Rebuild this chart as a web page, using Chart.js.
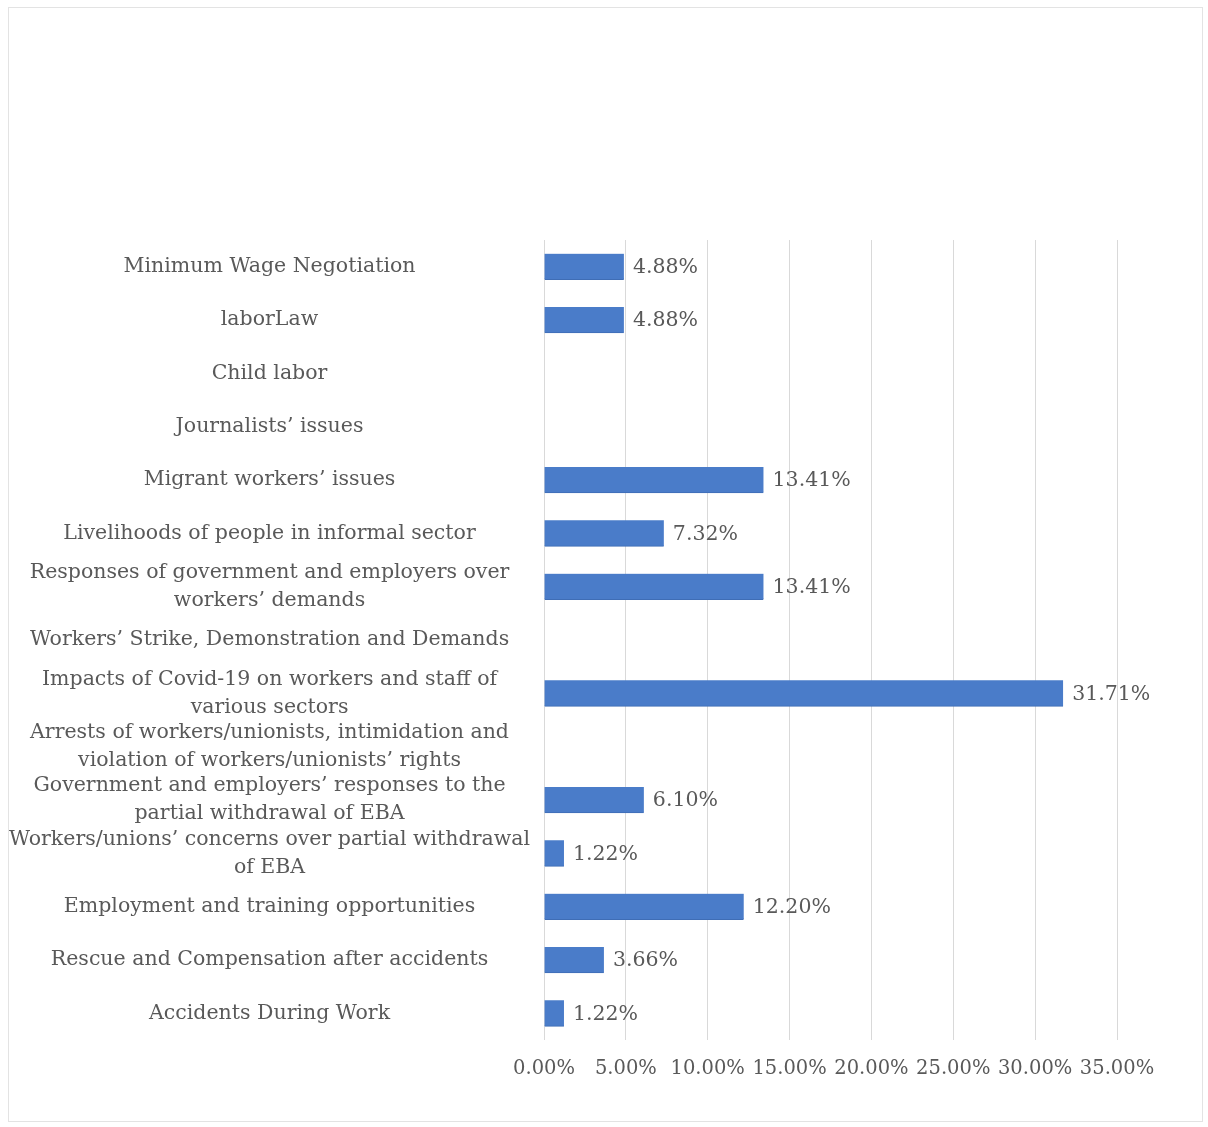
<!DOCTYPE html>
<html>
<head>
<meta charset="utf-8">
<script src="https://cdn.jsdelivr.net/npm/chart.js@4"></script>
<style>
  html, body { margin: 0; padding: 0; background: #fff; }
  #wrap { position: relative; width: 1208px; height: 1127px; }
  #frame { position: absolute; left: 8px; top: 7px; width: 1195px; height: 1115px; border: 1px solid #e3e3e3; box-sizing: border-box; }
  canvas { position: absolute; left: 0; top: 0; }
</style>
</head>
<body>
<div id="wrap">
  <div id="frame"></div>
  <canvas id="topicChart" width="1208" height="1127"></canvas>
</div>
<script>
// Categories (top to bottom)
const categories = [
    ["Minimum Wage Negotiation"],
    ["laborLaw"],
    ["Child labor"],
    ["Journalists\u2019 issues"],
    ["Migrant workers\u2019 issues"],
    ["Livelihoods of people in informal sector"],
    ["Responses of government and employers over", "workers\u2019 demands"],
    ["Workers\u2019 Strike, Demonstration and Demands"],
    ["Impacts of Covid-19 on workers and staff of", "various sectors"],
    ["Arrests of workers/unionists, intimidation and", "violation of workers/unionists\u2019 rights"],
    ["Government and employers\u2019 responses to the", "partial withdrawal of EBA"],
    ["Workers/unions\u2019 concerns over partial withdrawal", "of EBA"],
    ["Employment and training opportunities"],
    ["Rescue and Compensation after accidents"],
    ["Accidents During Work"]
];

// Share of news (%)
const shares = [4.88, 4.88, 0, 0, 13.41, 7.32, 13.41, 0, 31.71, 0, 6.10, 1.22, 12.20, 3.66, 1.22];

// x-axis ticks
const tickMin = 0;
const tickMax = 35;
const tickStep = 5;

const serif = "'DejaVu Serif', serif";
const textColor = "#595959";

// value labels after each bar
const valueLabels = {
    id: "valueLabels",
    afterDatasetsDraw(chart) {
        const ctx = chart.ctx;
        const meta = chart.getDatasetMeta(0);
        ctx.save();
        ctx.font = "20.5px " + serif;
        ctx.fillStyle = textColor;
        ctx.textAlign = "left";
        ctx.textBaseline = "middle";
        meta.data.forEach((bar, i) => {
            const v = shares[i];
            if (!v) return; // empty categories have no label
            ctx.fillText(v.toFixed(2) + "%", bar.x + 9, bar.y + 1);
        });
        ctx.restore();
    }
};

const ctx = document.getElementById("topicChart").getContext("2d");

new Chart(ctx, {
    type: "bar",
    data: {
        labels: categories,
        datasets: [{
            data: shares,
            backgroundColor: "#4a7cc9",
            borderColor: "#3f6db5",
            borderWidth: { top: 0, bottom: 1, left: 0, right: 0 },
            barThickness: 26
        }]
    },
    options: {
        indexAxis: "y",
        responsive: false,
        animation: false,
        layout: { padding: { top: 240, right: 91, bottom: 37, left: 0 } },
        plugins: {
            legend: { display: false },
            tooltip: { enabled: false }
        },
        scales: {
            x: {
                min: tickMin,
                max: tickMax,
                ticks: {
                    stepSize: tickStep,
                    color: textColor,
                    font: { family: serif, size: 19.5 },
                    padding: 17,
                    maxRotation: 0,
                    autoSkip: false,
                    callback: v => v.toFixed(2) + "%"
                },
                grid: { color: "#d9d9d9", drawTicks: false },
                border: { display: false },
                afterFit(scale) { scale.height = 50; }
            },
            y: {
                ticks: {
                    color: textColor,
                    font: { family: serif, size: 20.5, lineHeight: 1.37 },
                    crossAlign: "center",
                    padding: 14,
                    autoSkip: false
                },
                grid: { display: false, drawTicks: false },
                border: { display: false },
                afterFit(scale) { scale.width = 544; }
            }
        }
    },
    plugins: [valueLabels]
});
</script>
</body>
</html>
